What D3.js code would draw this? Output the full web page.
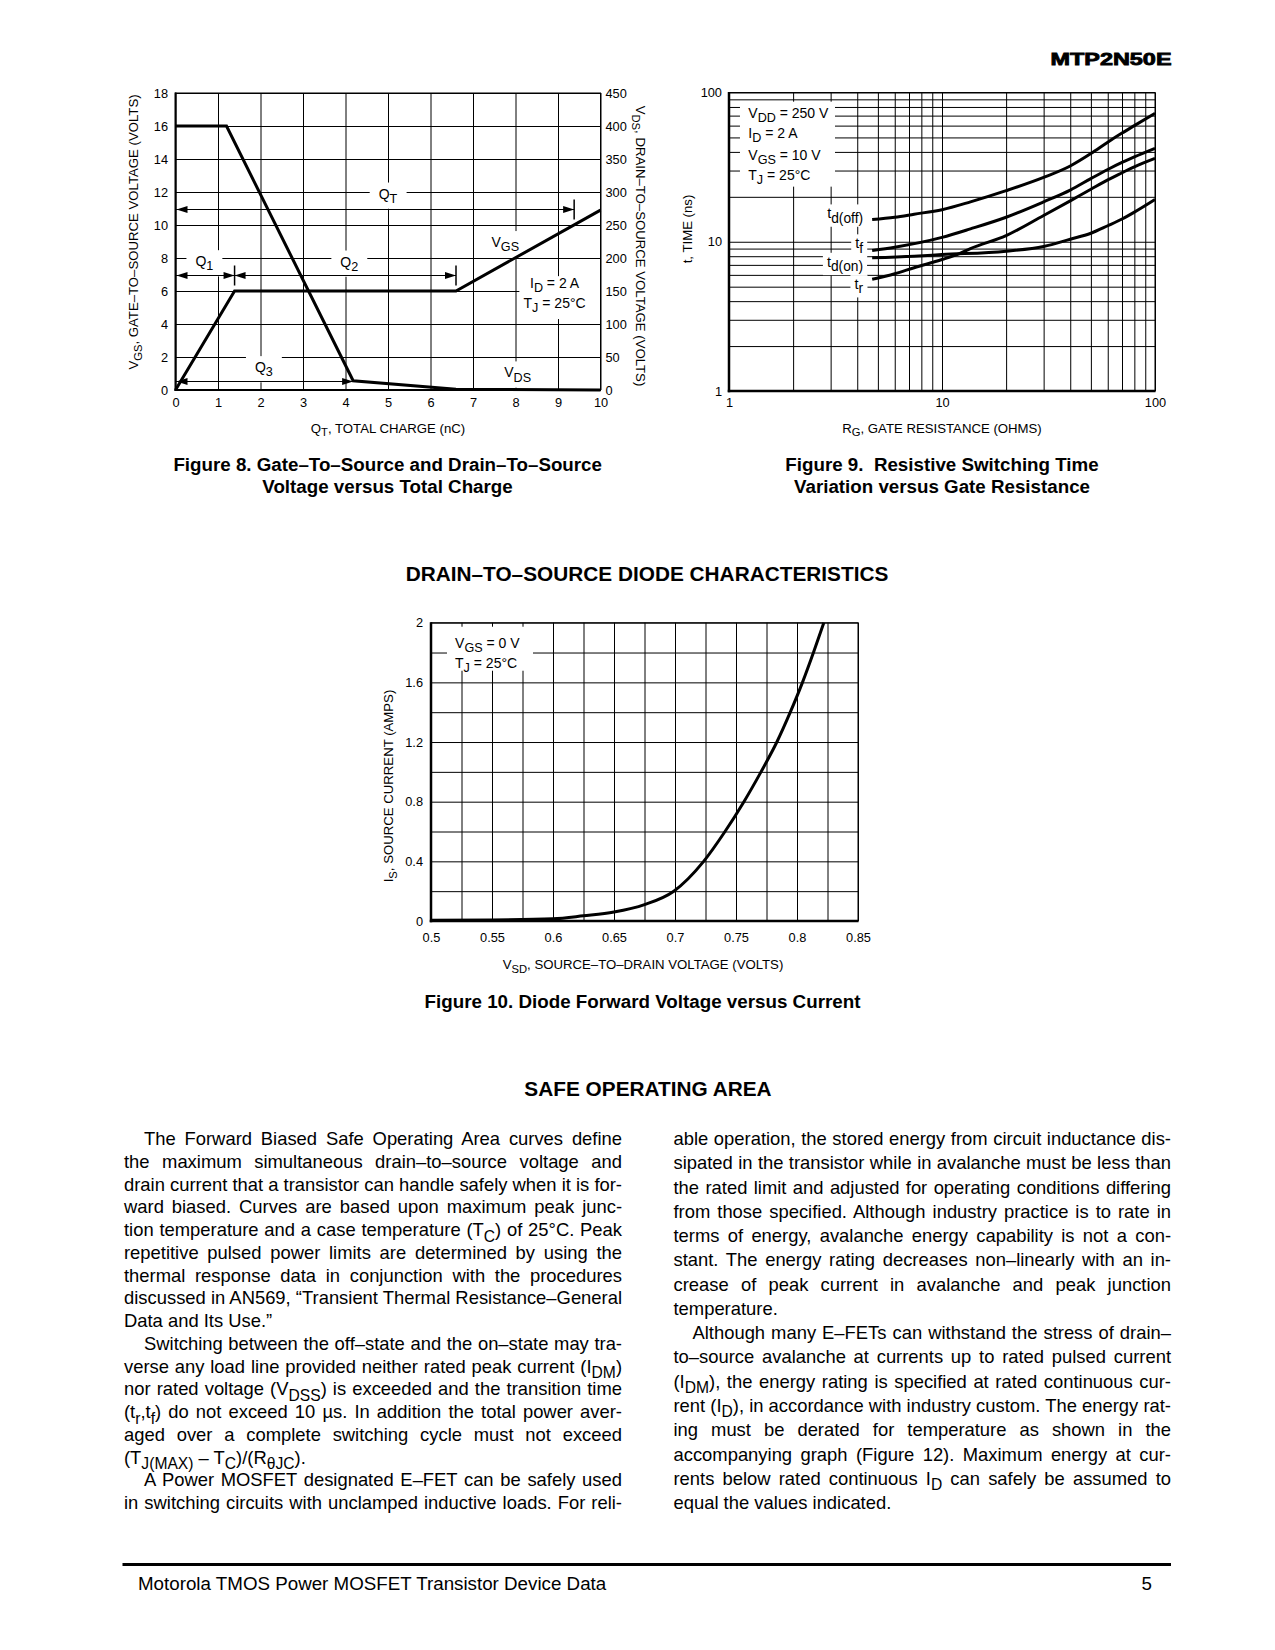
<!DOCTYPE html>
<html><head><meta charset="utf-8">
<script src="https://cdn.jsdelivr.net/npm/d3@7"></script>
<style>
body{margin:0;background:#fff}
svg{display:block}
text{white-space:pre}
</style>
</head><body>
<svg id="page" width="1275" height="1650"></svg>
<script>
// ================= DATA =================
// Figure 8 : Gate charge
const fig8QTicks = [0,1,2,3,4,5,6,7,8,9,10];
const fig8VgsTicks = [0,2,4,6,8,10,12,14,16,18];
const fig8VdsTicks = [0,50,100,150,200,250,300,350,400,450];
const fig8VgsQ = [0, 1.39, 6.6, 10];
const fig8Vgs  = [0, 6, 6, 10.9];
const fig8VdsQ = [0, 1.2, 4.18, 6.6, 10];
const fig8Vds  = [400, 400, 14, 1, 0];
const fig8Labels = [
  {t:'Q_{T}', x:5.0,  y:11.9},
  {t:'Q_{1}', x:0.68, y:7.8},
  {t:'Q_{2}', x:4.09, y:7.78},
  {t:'Q_{3}', x:2.08, y:1.38},
  {t:'V_{GS}', x:7.76, y:8.96},
  {t:'V_{DS}', x:8.05, y:1.06}
];
const fig8Cond = ['I_{D} = 2 A', 'T_{J} = 25°C'];
const fig8CondY = [6.5, 5.26];
const fig8Arrows = [
  {y:11,   x1:0,    x2:9.38, bar:9.38},
  {y:7,    x1:0,    x2:1.39, bar:1.39},
  {y:7,    x1:1.39, x2:6.6,  bar:6.6},
  {y:0.56, x1:0,    x2:4.18, bar:null}
];

// Figure 9 : switching times vs gate resistance
const fig9Ticks = [1, 10, 100];
const fig9TickLabels = ['1', '10', '100'];
const rgTdoff = [4.7, 6, 7.4, 10, 13.6, 20, 30, 40, 50, 60, 70, 80, 100];
const tdoff   = [14.1, 14.6, 15.3, 16.4, 18.5, 22, 27, 32.2, 39, 46.5, 53.5, 60, 72.5];
const rgTf    = [4.7, 6, 10, 13.6, 20, 30, 40, 50, 60, 70, 80, 100];
const tf      = [8.75, 9.2, 10.7, 12.2, 14.6, 18.5, 22.2, 26.5, 30.5, 34, 37, 42.2];
const rgTdon  = [4.7, 7.4, 10, 20, 30, 40, 50, 60, 70, 80, 100];
const tdon    = [7.8, 8.0, 8.2, 8.65, 9.3, 10.4, 11.4, 12.8, 14.2, 15.8, 19.2];
const rgTr    = [4.7, 6, 7.4, 10, 12, 13.6, 20, 30, 40, 50, 60, 70, 80, 100];
const tr      = [5.6, 6.1, 6.7, 7.6, 8.3, 9.0, 11, 15, 18.8, 22.5, 26, 29, 31.8, 36.2];
const fig9CurveLabels = ['t_{d(off)}', 't_{f}', 't_{d(on)}', 't_{r}'];
const fig9CurveLabelY = [15.5, 9.77, 7.35, 5.21];
const fig9Cond = ['V_{DD} = 250 V', 'I_{D} = 2 A', 'V_{GS} = 10 V', 'T_{J} = 25°C'];
const fig9CondY = [72.6, 53.4, 38.1, 28.0];

// Figure 10 : diode forward characteristic
const fig10XTicks = [0.5, 0.55, 0.6, 0.65, 0.7, 0.75, 0.8, 0.85];
const fig10XLabels = ['0.5','0.55','0.6','0.65','0.7','0.75','0.8','0.85'];
const fig10YTicks = [0, 0.4, 0.8, 1.2, 1.6, 2];
const fig10YLabels = ['0','0.4','0.8','1.2','1.6','2'];
const vsd  = [0.5, 0.55, 0.6, 0.625, 0.65, 0.675, 0.699, 0.7235, 0.741, 0.7565, 0.7705, 0.7835, 0.7945, 0.8045, 0.8135, 0.822];
const isrc = [0.005, 0.007, 0.015, 0.035, 0.06, 0.11, 0.2, 0.4, 0.6, 0.8, 1.0, 1.2, 1.4, 1.6, 1.8, 2.0];
const fig10Cond = ['V_{GS} = 0 V', 'T_{J} = 25°C'];
const fig10CondY = [1.864, 1.73];

// Body text
const bodyLeft = [
  {s:'The Forward Biased Safe Operating Area curves define', ind:1},
  {s:'the maximum simultaneous drain–to–source voltage and'},
  {s:'drain current that a transistor can handle safely when it is for-'},
  {s:'ward biased. Curves are based upon maximum peak junc-'},
  {s:'tion temperature and a case temperature (T_{C}) of 25°C. Peak'},
  {s:'repetitive pulsed power limits are determined by using the'},
  {s:'thermal response data in conjunction with the procedures'},
  {s:'discussed in AN569, “Transient Thermal Resistance–General'},
  {s:'Data and Its Use.”', last:1},
  {s:'Switching between the off–state and the on–state may tra-', ind:1},
  {s:'verse any load line provided neither rated peak current (I_{DM})'},
  {s:'nor rated voltage (V_{DSS}) is exceeded and the transition time'},
  {s:'(t_{r},t_{f}) do not exceed 10 µs. In addition the total power aver-'},
  {s:'aged over a complete switching cycle must not exceed'},
  {s:'(T_{J(MAX)} – T_{C})/(R_{θJC}).', last:1},
  {s:'A Power MOSFET designated E–FET can be safely used', ind:1},
  {s:'in switching circuits with unclamped inductive loads. For reli-'}
];
const bodyRight = [
  {s:'able operation, the stored energy from circuit inductance dis-'},
  {s:'sipated in the transistor while in avalanche must be less than'},
  {s:'the rated limit and adjusted for operating conditions differing'},
  {s:'from those specified. Although industry practice is to rate in'},
  {s:'terms of energy, avalanche energy capability is not a con-'},
  {s:'stant. The energy rating decreases non–linearly with an in-'},
  {s:'crease of peak current in avalanche and peak junction'},
  {s:'temperature.', last:1},
  {s:'Although many E–FETs can withstand the stress of drain–', ind:1},
  {s:'to–source avalanche at currents up to rated pulsed current'},
  {s:'(I_{DM}), the energy rating is specified at rated continuous cur-'},
  {s:'rent (I_{D}), in accordance with industry custom. The energy rat-'},
  {s:'ing must be derated for temperature as shown in the'},
  {s:'accompanying graph (Figure 12). Maximum energy at cur-'},
  {s:'rents below rated continuous I_{D} can safely be assumed to'},
  {s:'equal the values indicated.', last:1}
];

// ================= HELPERS =================
const FONT = "'Liberation Sans', Arial, Helvetica, sans-serif";
const svg = d3.select('#page');
svg.append('rect').attr('width',1275).attr('height',1650).attr('fill','#fff');

function rich(g, str, x, y, o = {}) {
  const size = o.size || 13;
  const t = g.append('text').attr('x', x).attr('y', y)
    .attr('font-size', size).attr('font-family', FONT).attr('fill', '#000')
    .attr('text-anchor', o.anchor || 'start');
  if (o.dy) t.attr('dy', o.dy);
  if (o.weight) t.attr('font-weight', o.weight);
  if (o.transform) t.attr('transform', o.transform);
  const parts = str.split(/(_\{[^}]*\})/).filter(s => s.length);
  const sh = size * (o.subShift || 0.3);
  const ss = o.subScale || 0.85;
  let down = false;
  parts.forEach(p => {
    if (p.startsWith('_{')) {
      const ts = t.append('tspan').attr('font-size', size * ss).text(p.slice(2, -1));
      if (!down) ts.attr('dy', sh);
      down = true;
    } else {
      const ts = t.append('tspan').text(p);
      if (down) { ts.attr('dy', -sh); down = false; }
    }
  });
  return t;
}
function boxFor(gBox, t, px, py) {
  const b = t.node().getBBox();
  gBox.append('rect').attr('x', b.x - px).attr('y', b.y - py)
    .attr('width', b.width + 2 * px).attr('height', b.height + 2 * py).attr('fill', '#fff');
}
function layers(parent) {
  const g = parent.append('g');
  return {grid: g.append('g'), box: g.append('g'), frame: g.append('g'),
          curve: g.append('g'), arrow: g.append('g'), text: g.append('g')};
}
function gridAxis(g, axis, transform) {
  g.append('g').attr('transform', transform).call(axis.tickFormat(''))
    .call(s => s.select('.domain').remove())
    .call(s => s.selectAll('line').attr('stroke', '#000').attr('stroke-width', 1));
}
function labelAxis(g, axis, transform, size) {
  g.append('g').attr('transform', transform).call(axis.tickSize(0))
    .call(s => s.select('.domain').remove())
    .call(s => s.selectAll('text').attr('font-size', size || 12.8).attr('font-family', FONT).attr('fill', '#000'));
}
function frame(g, x0, x1, y0, y1, wl, wb) {
  g.append('rect').attr('x', x0).attr('y', y1).attr('width', x1 - x0).attr('height', y0 - y1)
    .attr('fill', 'none').attr('stroke', '#000').attr('stroke-width', 1);
  g.append('line').attr('x1', x0).attr('x2', x0).attr('y1', y1 - 0.5).attr('y2', y0 + wb / 2)
    .attr('stroke', '#000').attr('stroke-width', wl);
  g.append('line').attr('x1', x0 - wl / 2).attr('x2', x1 + 0.5).attr('y1', y0).attr('y2', y0)
    .attr('stroke', '#000').attr('stroke-width', wb);
}
function head(g, tx, ty, dir) {
  const L = 11, h = 3.5;
  g.append('path').attr('d', `M${tx},${ty}L${tx - dir * L},${ty - h}L${tx - dir * L},${ty + h}Z`).attr('fill', '#000');
}
const LAB = {size: 14, subScale: 0.9};

// ================= HEADER / FOOTER =================
svg.append('text').attr('x', 1171.5).attr('y', 65).attr('text-anchor', 'end')
  .attr('font-family', FONT).attr('font-weight', 'bold').attr('font-size', 16.5)
  .attr('stroke', '#000').attr('stroke-width', 0.8)
  .attr('textLength', 121).attr('lengthAdjust', 'spacingAndGlyphs').text('MTP2N50E');

svg.append('line').attr('x1', 122.5).attr('x2', 1171).attr('y1', 1564.5).attr('y2', 1564.5)
  .attr('stroke', '#000').attr('stroke-width', 3);
rich(svg, 'Motorola TMOS Power MOSFET Transistor Device Data', 138, 1590, {size: 18.75});
rich(svg, '5', 1152, 1590, {size: 18.75, anchor: 'end'});

// ================= FIGURE 8 =================
(function () {
  const X0 = 175.5, X1 = 600.5, Y0 = 390, Y1 = 93;
  const x = d3.scaleLinear().domain([0, 10]).range([X0, X1]);
  const y = d3.scaleLinear().domain([0, 18]).range([Y0, Y1]);
  const yr = d3.scaleLinear().domain([0, 450]).range([Y0, Y1]);
  const L = layers(svg);
  gridAxis(L.grid, d3.axisBottom(x).tickValues(fig8QTicks).tickSize(-(Y0 - Y1)).tickSizeOuter(0), `translate(0,${Y0})`);
  gridAxis(L.grid, d3.axisLeft(y).tickValues(fig8VgsTicks).tickSize(-(X1 - X0)).tickSizeOuter(0), `translate(${X0},0)`);
  labelAxis(L.text, d3.axisLeft(y).tickValues(fig8VgsTicks).tickPadding(7.5), `translate(${X0},0)`);
  labelAxis(L.text, d3.axisRight(yr).tickValues(fig8VdsTicks).tickPadding(5), `translate(${X1},0)`);
  labelAxis(L.text, d3.axisBottom(x).tickValues(fig8QTicks).tickPadding(7.6), `translate(0,${Y0})`);

  L.box.append('rect').attr('x', x(8.09)).attr('y', y(6.9)).attr('width', x(10) - x(8.09))
    .attr('height', y(4.3) - y(6.9)).attr('fill', '#fff');
  fig8Cond.forEach((s, i) => rich(L.text, s, x(8.92), y(fig8CondY[i]), {...LAB, anchor: 'middle', dy: '0.35em'}));

  fig8Labels.forEach(d => {
    const t = rich(L.text, d.t, x(d.x), y(d.y), {...LAB, anchor: 'middle', dy: '0.35em'});
    boxFor(L.box, t, 9, 3);
  });

  frame(L.frame, X0, X1, Y0, Y1, 2, 2);

  const line = d3.line().x(d => x(d[0])).y(d => y(d[1]));
  const liner = d3.line().x(d => x(d[0])).y(d => yr(d[1]));
  L.curve.append('path').attr('d', line(d3.zip(fig8VgsQ, fig8Vgs)))
    .attr('fill', 'none').attr('stroke', '#000').attr('stroke-width', 3).attr('stroke-linejoin', 'miter');
  L.curve.append('path').attr('d', liner(d3.zip(fig8VdsQ, fig8Vds)))
    .attr('fill', 'none').attr('stroke', '#000').attr('stroke-width', 3).attr('stroke-linejoin', 'miter');

  fig8Arrows.forEach(a => {
    const yy = Math.round(y(a.y)) + 0.5;
    L.arrow.append('line').attr('x1', x(a.x1)).attr('x2', x(a.x2)).attr('y1', yy).attr('y2', yy)
      .attr('stroke', '#000').attr('stroke-width', 1);
    head(L.arrow, x(a.x1) + (a.x1 === 0 ? 1 : 0), yy, -1);
    head(L.arrow, x(a.x2), yy, 1);
    if (a.bar !== null) {
      L.arrow.append('line').attr('x1', x(a.bar)).attr('x2', x(a.bar)).attr('y1', yy - 10).attr('y2', yy + 10)
        .attr('stroke', '#000').attr('stroke-width', 1.5);
    }
  });

  rich(L.text, 'Q_{T}, TOTAL CHARGE (nC)', (X0 + X1) / 2, 432.5, {size: 13.2, anchor: 'middle'});
  rich(L.text, 'V_{GS}, GATE–TO–SOURCE VOLTAGE (VOLTS)', 0, 0, {size: 13.2, anchor: 'middle', dy: '0.35em',
       transform: 'translate(133,232) rotate(-90)'});
  rich(L.text, 'V_{DS}, DRAIN–TO–SOURCE VOLTAGE (VOLTS)', 0, 0, {size: 13.2, anchor: 'middle', dy: '0.35em',
       transform: 'translate(641,246) rotate(90)'});

  rich(svg, 'Figure 8. Gate–To–Source and Drain–To–Source', 387.7, 470.5, {size: 18.75, anchor: 'middle', weight: 'bold'});
  rich(svg, 'Voltage versus Total Charge', 387.5, 493, {size: 18.75, anchor: 'middle', weight: 'bold'});
})();

// ================= FIGURE 9 =================
(function () {
  const X0 = 729, X1 = 1155, Y0 = 391, Y1 = 92.5;
  const x = d3.scaleLog().domain([1, 100]).range([X0, X1]);
  const y = d3.scaleLog().domain([1, 100]).range([Y0, Y1]);
  const minor = [];
  [1, 10].forEach(dec => { for (let k = 1; k <= 9; k++) minor.push(k * dec); });
  minor.push(100);
  const L = layers(svg);
  gridAxis(L.grid, d3.axisBottom(x).tickValues(minor).tickSize(-(Y0 - Y1)).tickSizeOuter(0), `translate(0,${Y0})`);
  gridAxis(L.grid, d3.axisLeft(y).tickValues(minor).tickSize(-(X1 - X0)).tickSizeOuter(0), `translate(${X0},0)`);
  labelAxis(L.text, d3.axisLeft(y).tickValues(fig9Ticks).tickFormat((d, i) => fig9TickLabels[i]).tickPadding(7), `translate(${X0},0)`);
  labelAxis(L.text, d3.axisBottom(x).tickValues(fig9Ticks).tickFormat((d, i) => fig9TickLabels[i]).tickPadding(6.6), `translate(0,${Y0})`);

  L.box.append('rect').attr('x', x(1.126)).attr('y', y(86.8)).attr('width', x(3.145) - x(1.126))
    .attr('height', y(23.4) - y(86.8)).attr('fill', '#fff');
  fig9Cond.forEach((s, i) => rich(L.text, s, x(1.232), y(fig9CondY[i]), {...LAB, dy: '0.35em'}));

  fig9CurveLabels.forEach((s, i) => {
    const t = rich(L.text, s, x(4.26), y(fig9CurveLabelY[i]), {size: 14.5, subScale: 0.95, anchor: 'end', dy: '0.35em'});
    boxFor(L.box, t, 4, 1);
  });

  frame(L.frame, X0, X1, Y0, Y1, 2.5, 2.5);

  const line = d3.line().x(d => x(d[0])).y(d => y(d[1])).curve(d3.curveMonotoneX);
  [[rgTdoff, tdoff], [rgTf, tf], [rgTdon, tdon], [rgTr, tr]].forEach(([xs, ys]) => {
    L.curve.append('path').attr('d', line(d3.zip(xs, ys)))
      .attr('fill', 'none').attr('stroke', '#000').attr('stroke-width', 3);
  });

  rich(L.text, 'R_{G}, GATE RESISTANCE (OHMS)', (X0 + X1) / 2, 432.5, {size: 13.2, anchor: 'middle'});
  rich(L.text, 't, TIME (ns)', 0, 0, {size: 13.2, anchor: 'middle', dy: '0.35em',
       transform: 'translate(687,229) rotate(-90)'});

  rich(svg, 'Figure 9.  Resistive Switching Time', 942, 470.5, {size: 18.75, anchor: 'middle', weight: 'bold'});
  rich(svg, 'Variation versus Gate Resistance', 942, 493, {size: 18.75, anchor: 'middle', weight: 'bold'});
})();

// ================= FIGURE 10 =================
(function () {
  const X0 = 431, X1 = 858, Y0 = 921, Y1 = 622.7;
  const x = d3.scaleLinear().domain([0.5, 0.85]).range([X0, X1]);
  const y = d3.scaleLinear().domain([0, 2]).range([Y0, Y1]);
  const L = layers(svg);
  const vGrid = d3.range(0, 15).map(i => 0.5 + i * 0.025);
  const hGrid = d3.range(0, 11).map(i => i * 0.2);
  gridAxis(L.grid, d3.axisBottom(x).tickValues(vGrid).tickSize(-(Y0 - Y1)).tickSizeOuter(0), `translate(0,${Y0})`);
  gridAxis(L.grid, d3.axisLeft(y).tickValues(hGrid).tickSize(-(X1 - X0)).tickSizeOuter(0), `translate(${X0},0)`);
  labelAxis(L.text, d3.axisLeft(y).tickValues(fig10YTicks).tickFormat((d, i) => fig10YLabels[i]).tickPadding(8), `translate(${X0},0)`);
  labelAxis(L.text, d3.axisBottom(x).tickValues(fig10XTicks).tickFormat((d, i) => fig10XLabels[i]).tickPadding(11.6), `translate(0,${Y0})`);

  L.box.append('rect').attr('x', x(0.5131)).attr('y', y(1.973)).attr('width', x(0.5836) - x(0.5131))
    .attr('height', y(1.678) - y(1.973)).attr('fill', '#fff');
  fig10Cond.forEach((s, i) => rich(L.text, s, x(0.5197), y(fig10CondY[i]), {...LAB, dy: '0.35em'}));

  frame(L.frame, X0, X1, Y0, Y1, 2.5, 2.5);

  const line = d3.line().x(d => x(d[0])).y(d => y(d[1])).curve(d3.curveMonotoneX);
  L.curve.append('path').attr('d', line(d3.zip(vsd, isrc)))
    .attr('fill', 'none').attr('stroke', '#000').attr('stroke-width', 3);

  rich(L.text, 'V_{SD}, SOURCE–TO–DRAIN VOLTAGE (VOLTS)', 643, 969, {size: 13.2, anchor: 'middle'});
  rich(L.text, 'I_{S}, SOURCE CURRENT (AMPS)', 0, 0, {size: 13.2, anchor: 'middle', dy: '0.35em',
       transform: 'translate(388,786) rotate(-90)'});

  rich(svg, 'DRAIN–TO–SOURCE DIODE CHARACTERISTICS', 647, 580.5, {size: 20.8, anchor: 'middle', weight: 'bold'});
  rich(svg, 'Figure 10. Diode Forward Voltage versus Current', 642.5, 1008, {size: 18.8, anchor: 'middle', weight: 'bold'});
})();

// ================= BODY TEXT =================
rich(svg, 'SAFE OPERATING AREA', 648, 1096, {size: 20.8, anchor: 'middle', weight: 'bold'});

function para(lines, x0, x1, ind, y0, step, size) {
  lines.forEach((ln, i) => {
    const xs = x0 + (ln.ind ? ind : 0);
    const t = rich(svg, ln.s, xs, y0 + i * step, {size: size});
    if (!ln.last) {
      const w = t.node().getComputedTextLength();
      const n = (ln.s.replace(/_\{[^}]*\}/g, '').match(/ /g) || []).length;
      if (n) t.attr('word-spacing', ((x1 - xs - w) / n).toFixed(3));
    }
  });
}
para(bodyLeft, 124, 622, 20, 1145, 22.75, 18.4);
para(bodyRight, 673.5, 1171, 19, 1145, 24.27, 18.4);
</script>
</body></html>
